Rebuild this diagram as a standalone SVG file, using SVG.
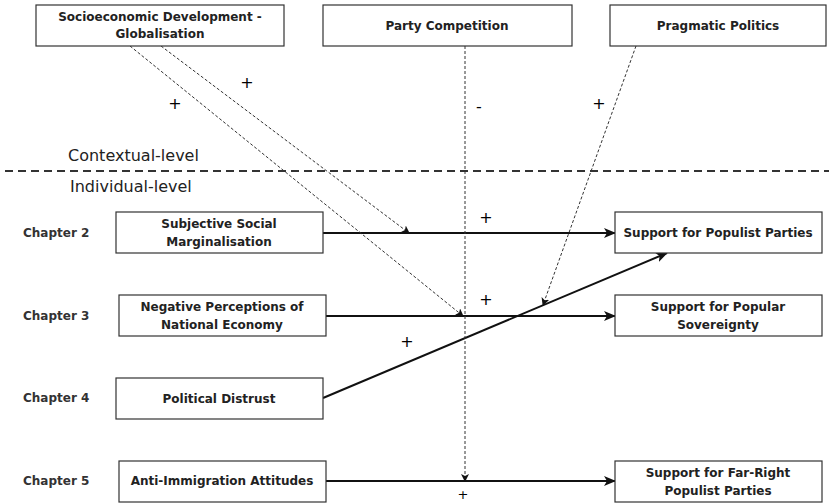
<svg xmlns="http://www.w3.org/2000/svg" width="829" height="503" viewBox="0 0 829 503">
<style>
.box{fill:#fff;stroke:#333;stroke-width:1.2}
.t{font-family:"DejaVu Sans",Verdana,sans-serif;font-size:12px;font-weight:bold;fill:#222;text-anchor:middle}
.ch{font-family:"DejaVu Sans",Verdana,sans-serif;font-size:12px;font-weight:bold;fill:#333}
.lvl{font-family:"DejaVu Sans",Verdana,sans-serif;font-size:16px;fill:#222}
.sign{font-family:"DejaVu Sans",sans-serif;font-size:16px;fill:#000;text-anchor:middle}
.solid{stroke:#111;stroke-width:2;fill:none}
.dash{stroke:#333;stroke-width:1;stroke-dasharray:3,2;fill:none}
</style>
<defs>
<marker id="big" viewBox="0 0 12 10" refX="11" refY="5" markerWidth="12" markerHeight="10" markerUnits="userSpaceOnUse" orient="auto">
<path d="M0,0 L12,5 L0,10 L3,5 Z" fill="#111"/>
</marker>
<marker id="small" viewBox="0 0 8 8" refX="7" refY="4" markerWidth="8" markerHeight="8" markerUnits="userSpaceOnUse" orient="auto">
<path d="M0,0 L8,4 L0,8 L2,4 Z" fill="#111"/>
</marker>
</defs>

<line x1="5" y1="171" x2="829" y2="171" stroke="#333" stroke-width="2" stroke-dasharray="8,5"/>
<text class="lvl" x="68" y="161">Contextual-level</text>
<text class="lvl" x="70" y="192">Individual-level</text>

<g id="chapters">
<text class="ch" x="23" y="237">Chapter 2</text>
<text class="ch" x="23" y="320">Chapter 3</text>
<text class="ch" x="23" y="402">Chapter 4</text>
<text class="ch" x="23" y="485">Chapter 5</text>
</g>

<g id="connectors">
<line class="solid" x1="323" y1="233" x2="615" y2="233" marker-end="url(#big)"/>
<line class="solid" x1="326" y1="316" x2="615" y2="316" marker-end="url(#big)"/>
<line class="solid" x1="326" y1="481" x2="615" y2="481" marker-end="url(#big)"/>
<line class="solid" x1="323" y1="398" x2="667" y2="253" marker-end="url(#big)"/>
<line class="dash" x1="161" y1="46" x2="409" y2="233" marker-end="url(#small)"/>
<line class="dash" x1="130" y1="46" x2="463" y2="316" marker-end="url(#small)"/>
<line class="dash" x1="465" y1="46" x2="465" y2="481" marker-end="url(#small)"/>
<line class="dash" x1="636" y1="46" x2="543" y2="305" marker-end="url(#small)"/>
<text class="sign" x="247" y="88">+</text>
<text class="sign" x="175" y="109">+</text>
<text class="sign" x="479" y="112">-</text>
<text class="sign" x="599" y="109">+</text>
<text class="sign" x="486" y="223">+</text>
<text class="sign" x="486" y="305">+</text>
<text class="sign" x="407" y="347">+</text>
<text class="sign" x="463" y="499" style="font-size:13px">+</text>
</g>

<g id="socio">
<rect class="box" x="36" y="5" width="248" height="41"/>
<text class="t" x="160" y="21">Socioeconomic Development -</text>
<text class="t" x="160" y="38">Globalisation</text>
</g>
<g id="party">
<rect class="box" x="323" y="5" width="249" height="41"/>
<text class="t" x="447" y="30">Party Competition</text>
</g>
<g id="pragmatic">
<rect class="box" x="610" y="5" width="216" height="41"/>
<text class="t" x="718" y="30">Pragmatic Politics</text>
</g>

<g id="subjective">
<rect class="box" x="116" y="212" width="207" height="41"/>
<text class="t" x="219" y="228">Subjective Social</text>
<text class="t" x="219" y="246">Marginalisation</text>
</g>
<g id="negative">
<rect class="box" x="119" y="295" width="207" height="41"/>
<text class="t" x="222" y="311">Negative Perceptions of</text>
<text class="t" x="222" y="329">National Economy</text>
</g>
<g id="distrust">
<rect class="box" x="116" y="378" width="207" height="41"/>
<text class="t" x="219" y="403">Political Distrust</text>
</g>
<g id="immigration">
<rect class="box" x="119" y="461" width="207" height="41"/>
<text class="t" x="222" y="485">Anti-Immigration Attitudes</text>
</g>

<g id="populist">
<rect class="box" x="615" y="212" width="207" height="41"/>
<text class="t" x="718" y="237">Support for Populist Parties</text>
</g>
<g id="sovereignty">
<rect class="box" x="615" y="295" width="207" height="41"/>
<text class="t" x="718" y="311">Support for Popular</text>
<text class="t" x="718" y="329">Sovereignty</text>
</g>
<g id="farright">
<rect class="box" x="615" y="461" width="207" height="41"/>
<text class="t" x="718" y="477">Support for Far-Right</text>
<text class="t" x="718" y="495">Populist Parties</text>
</g>
</svg>
